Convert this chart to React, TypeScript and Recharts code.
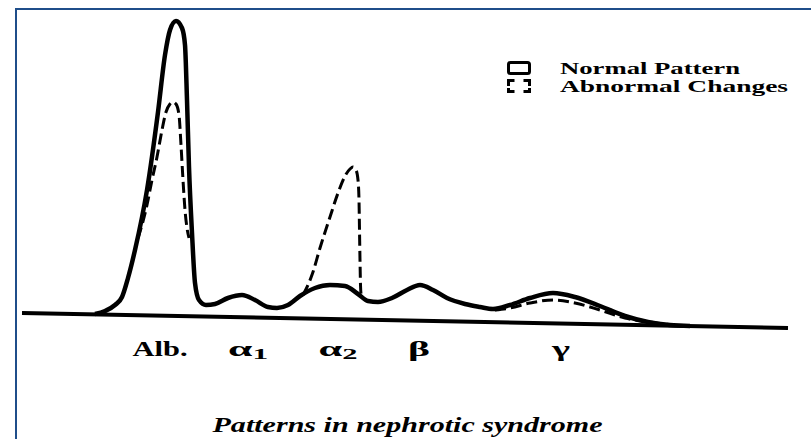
import { LineChart, Line, XAxis, YAxis, Legend } from 'recharts';

// electrophoretic mobility (x) and stain density above the reference (v)
const normalMobility = [
  95, 105, 115, 122, 128, 135, 147, 158, 165, 170, 176, 182, 185, 187, 189, 192, 195, 199,
  206, 215, 228, 242, 255, 268, 277, 288, 300, 315, 330, 345, 358, 368, 378, 392, 407, 420,
  433, 447, 465, 480, 493, 510, 530, 553, 575, 600, 625, 648, 670, 690,
];
const normalDensity = [
  16, 19, 25, 33, 52, 80, 140, 218, 275, 300, 309, 302, 285, 230, 163, 97, 47, 30,
  25, 26, 32, 35, 30, 23, 22, 25, 34, 42, 45, 44, 36, 29, 28, 32, 40, 45,
  40, 32, 26, 23, 21, 25, 32, 37, 33, 24, 14, 8, 5, 4,
];

// abnormal changes: lowered albumin, raised alpha-2, lowered gamma
const albuminMobility = [138, 142, 147, 152, 157, 162, 166, 170, 173, 176, 179, 181, 183, 185, 187, 189];
const albuminDensity = [92, 105, 125, 150, 173, 200, 218, 226, 228, 226, 215, 185, 150, 120, 102, 92];
const alpha2Mobility = [303, 308, 313, 320, 330, 338, 345, 350, 353, 356, 358, 359, 359.5, 360, 360.5, 361];
const alpha2Density = [35, 45, 58, 82, 113, 137, 154, 161, 163, 160, 150, 130, 100, 70, 45, 36];
const gammaMobility = [495, 510, 530, 553, 575, 600, 625, 650, 672];
const gammaDensity = [20, 22, 27, 30, 27, 20, 12, 8, 5];

const baselineMobility = [22, 788];
const baselineDensity = [17, 2];

const fractionPositions = [160, 248, 338, 419, 561];
const fractionNames = ['Alb.', 'α', 'α', 'β', 'γ'];
const fractionSubs = ['', '1', '2', '', ''];

const caption = 'Patterns in nephrotic syndrome';

// printed widths of the tick labels (the scan is stretched sideways)
const tickWidths = [55, 40, 39, 22, 18];

const zip = (xs: number[], vs: number[]) => xs.map((x, i) => ({ x, v: vs[i] }));

const normalData = zip(normalMobility, normalDensity);
const abnormalData = [
  ...zip(albuminMobility, albuminDensity),
  { x: 250, v: null },
  ...zip(alpha2Mobility, alpha2Density),
  { x: 430, v: null },
  ...zip(gammaMobility, gammaDensity),
];
const baselineData = zip(baselineMobility, baselineDensity);

const SERIF = '"Liberation Serif", "Times New Roman", serif';

function FractionTick(props: any) {
  const { x, y, index } = props;
  const sub = fractionSubs[index];
  return (
    <text
      x={x}
      y={y + 18}
      textAnchor="middle"
      textLength={tickWidths[index]}
      lengthAdjust="spacingAndGlyphs"
      fontFamily={SERIF}
      fontWeight="bold"
      fontSize={21}
      fill="#000"
    >
      {fractionNames[index]}
      {sub && (
        <tspan fontSize={15} dy={3}>
          {sub}
        </tspan>
      )}
    </text>
  );
}

function Caption(props: any) {
  const vb = props.viewBox || { x: 0, y: 330, width: 811 };
  const cx = vb.x + vb.width / 2 + 2;
  return (
    <text
      x={cx - 195}
      y={vb.y + 102}
      textLength={390}
      lengthAdjust="spacingAndGlyphs"
      fontFamily={SERIF}
      fontStyle="italic"
      fontWeight="bold"
      fontSize={22}
      fill="#000"
    >
      {caption}
    </text>
  );
}

function LegendIcon({ dashed }: { dashed: boolean }) {
  if (!dashed) {
    return <rect x={8.5} y={1.5} width={21} height={11} rx={2} fill="none" stroke="#000" strokeWidth={3} />;
  }
  // only the corners of the box, like the printed key
  return (
    <path
      d="M8.5,7 V1.5 H14.5 M23.5,1.5 H29.5 V7 M29.5,9 V12.5 H23.5 M14.5,12.5 H8.5 V9"
      fill="none"
      stroke="#000"
      strokeWidth={3}
    />
  );
}

function renderLegend(props: any) {
  const items = (props.payload || [])
    .filter((p: any) => p.type !== 'none')
    .map((p: any) => ({ ...p, dashed: !!(p.payload && p.payload.strokeDasharray) }))
    .sort((a: any, b: any) => Number(a.dashed) - Number(b.dashed));
  return (
    <svg width={300} height={45} style={{ display: 'block', overflow: 'visible' }}>
      {items.map((item: any, i: number) => (
        <g key={item.value} transform={`translate(0,${i * 18 + 3})`}>
          <LegendIcon dashed={item.dashed} />
          <text
            x={60}
            y={13}
            textLength={item.dashed ? 228 : 180}
            lengthAdjust="spacingAndGlyphs"
            fontFamily={SERIF}
            fontWeight="bold"
            fontSize={17}
            fill="#000"
          >
            {item.value}
          </text>
        </g>
      ))}
    </svg>
  );
}

export default function App() {
  return (
    <div style={{ position: 'fixed', left: 0, top: 0, width: 811, height: 439, background: '#fff', overflow: 'hidden' }}>
      <div
        style={{
          position: 'absolute',
          left: 15,
          top: 8,
          width: 811,
          height: 439,
          borderLeft: '2px solid #1f4e8a',
          borderTop: '2px solid #1f4e8a',
        }}
      />
      <div style={{ position: 'absolute', left: 0, top: 0 }}>
        <LineChart width={811} height={439} margin={{ top: 0, right: 0, bottom: 79, left: 0 }}>
          <XAxis
            type="number"
            dataKey="x"
            domain={[0, 811]}
            allowDataOverflow
            ticks={fractionPositions}
            interval={0}
            axisLine={false}
            tickLine={false}
            height={30}
            tick={<FractionTick />}
            label={{ content: (p: any) => <Caption {...p} /> }}
          />
          <YAxis type="number" domain={[0, 330]} allowDataOverflow hide />
          <Legend
            layout="vertical"
            align="center"
            verticalAlign="middle"
            content={renderLegend}
            wrapperStyle={{ left: 500, top: 58, width: 300, height: 45 }}
          />
          <Line
            data={baselineData}
            dataKey="v"
            type="linear"
            stroke="#000"
            strokeWidth={4}
            dot={false}
            activeDot={false}
            legendType="none"
            isAnimationActive={false}
          />
          <Line
            data={abnormalData}
            dataKey="v"
            name="Abnormal Changes"
            type="monotone"
            stroke="#000"
            strokeWidth={3}
            strokeDasharray="11 5"
            dot={false}
            activeDot={false}
            isAnimationActive={false}
          />
          <Line
            data={normalData}
            dataKey="v"
            name="Normal Pattern"
            type="monotone"
            stroke="#000"
            strokeWidth={4.5}
            strokeLinejoin="round"
            dot={false}
            activeDot={false}
            isAnimationActive={false}
          />
        </LineChart>
      </div>
    </div>
  );
}
